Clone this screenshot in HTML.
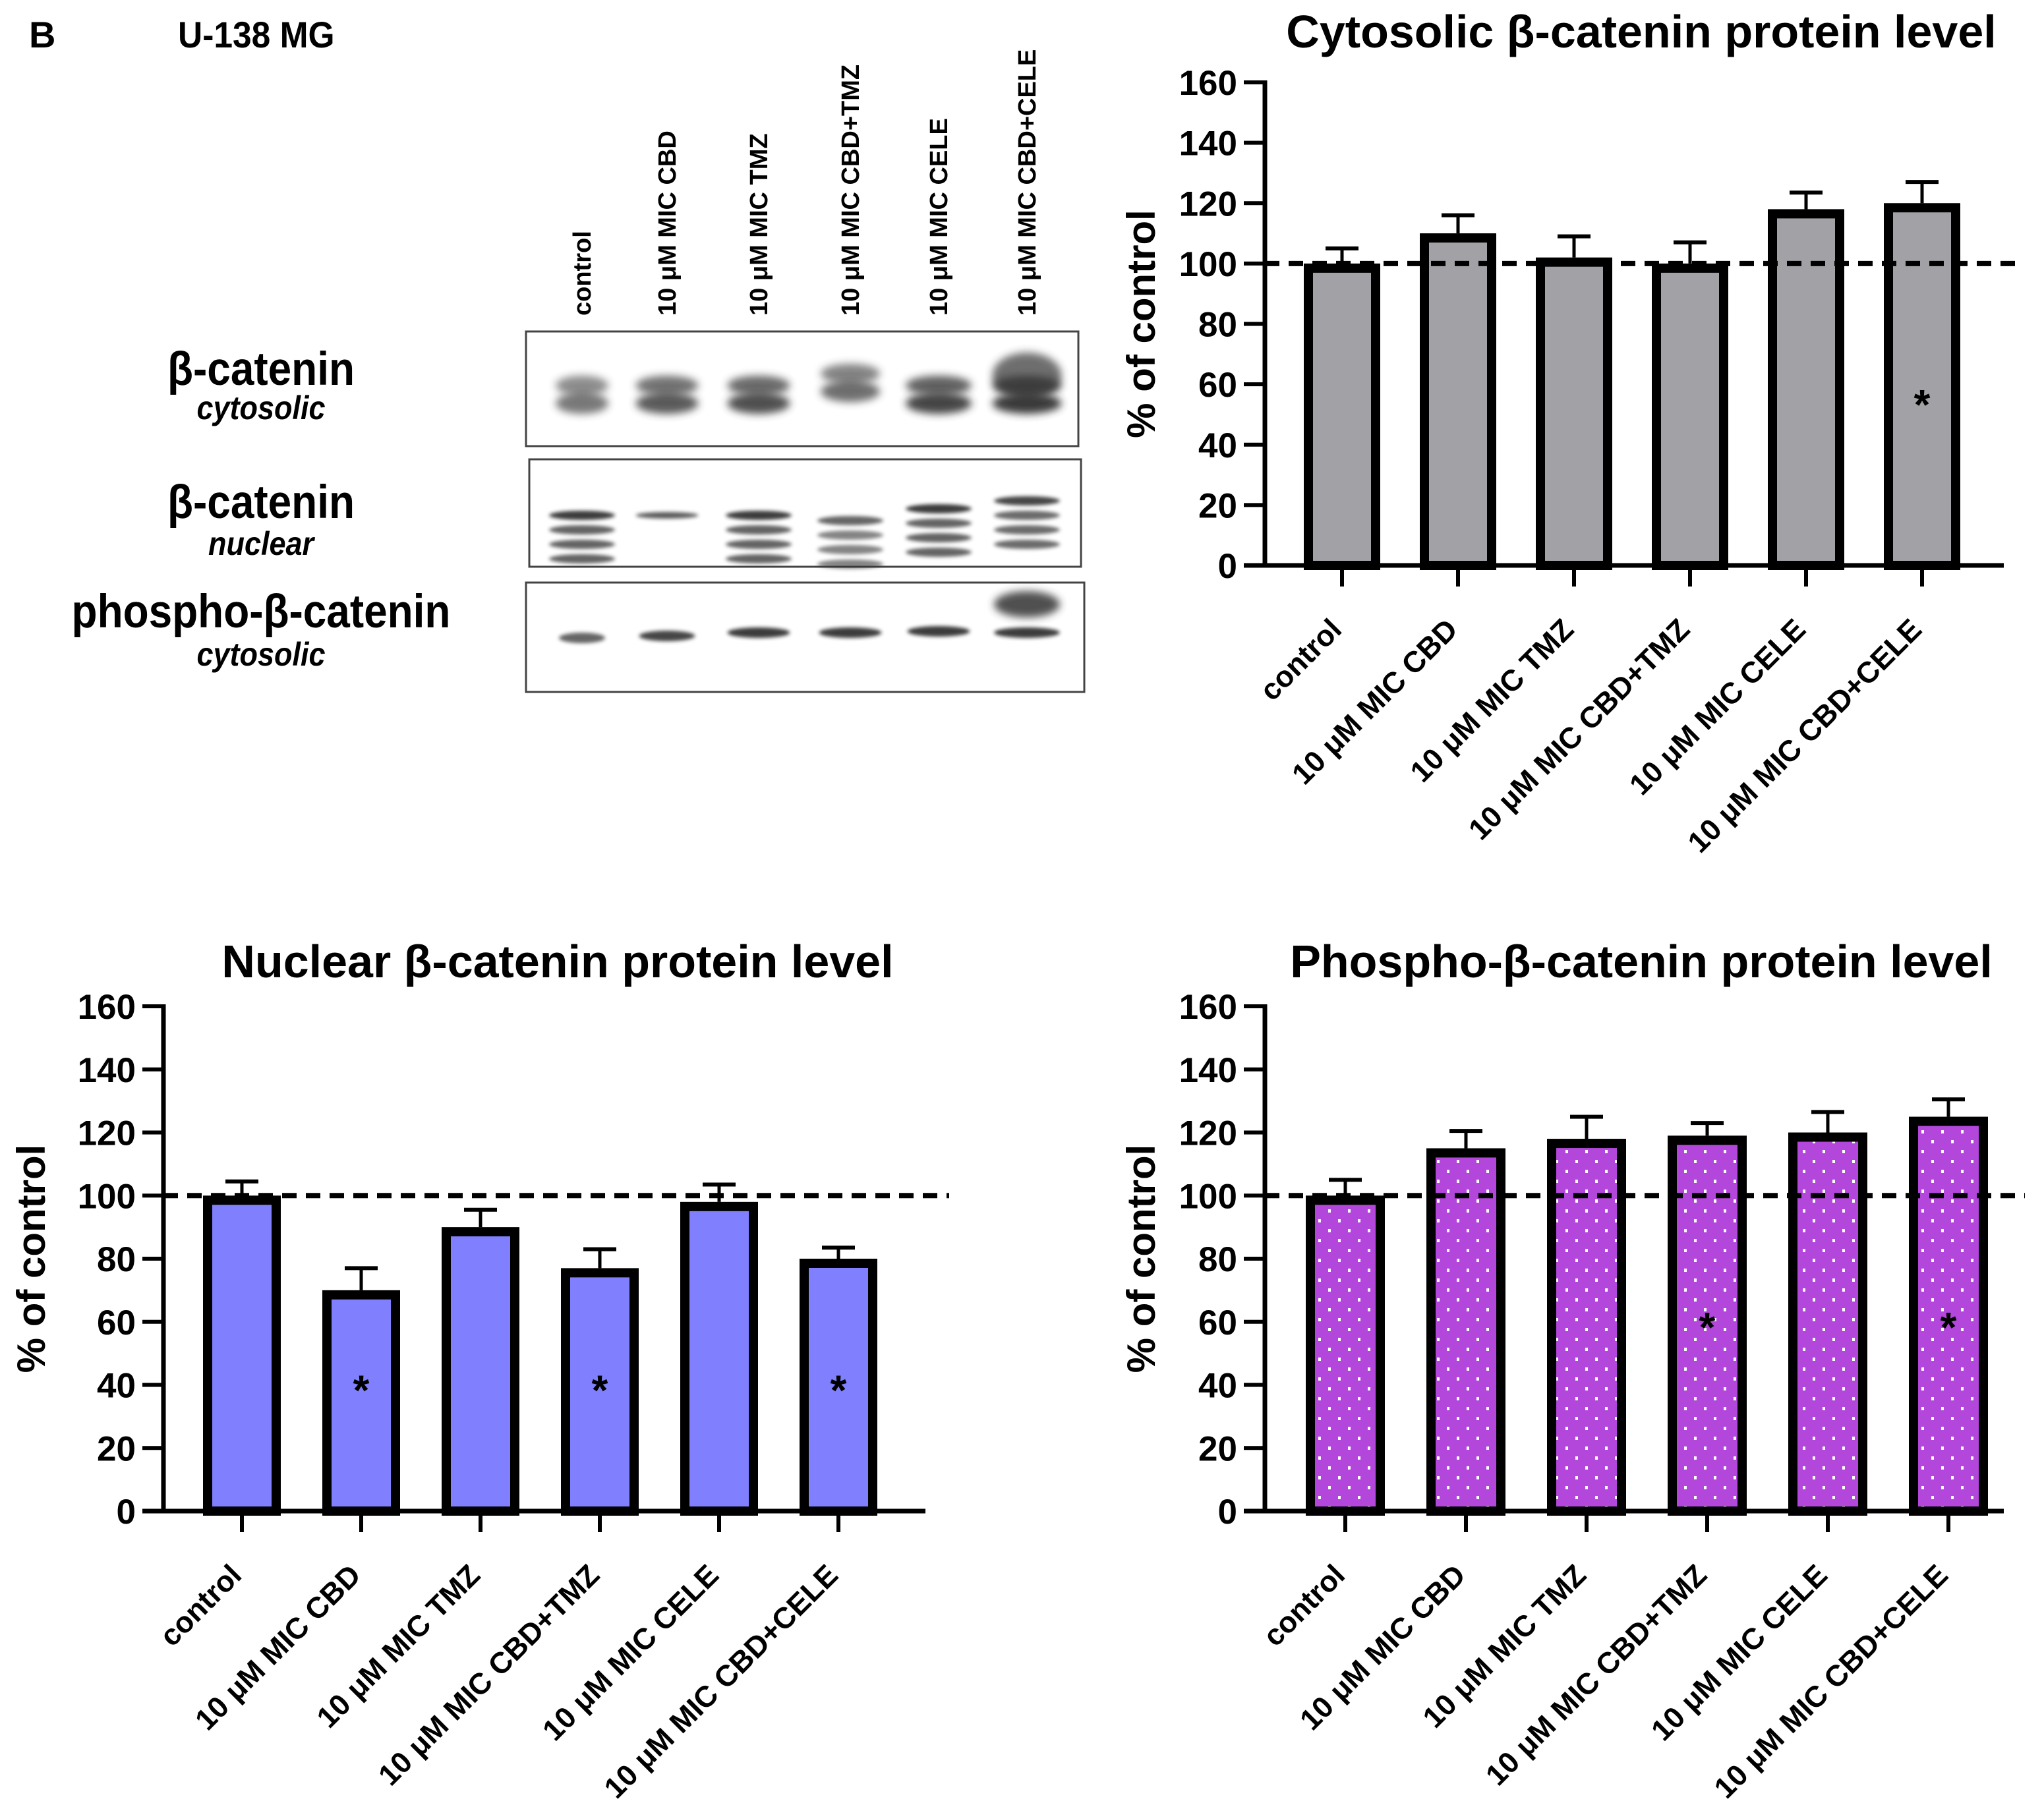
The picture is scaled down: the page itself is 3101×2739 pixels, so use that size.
<!DOCTYPE html>
<html><head><meta charset="utf-8"><style>
html,body{margin:0;padding:0;background:#fff}
svg{display:block}
text{font-family:"Liberation Sans",Arial,sans-serif;font-weight:bold;fill:#000}
</style></head><body>
<svg id="fig" width="3101" height="2739" viewBox="0 0 3101 2739" xmlns="http://www.w3.org/2000/svg">
<defs>
<pattern id="dots" width="30" height="30" patternUnits="userSpaceOnUse">
<rect width="30" height="30" fill="#b347db"/>
<rect x="5" y="5" width="4" height="5" fill="#fff"/>
<rect x="20" y="20" width="4" height="5" fill="#fff"/>
</pattern>
<filter id="blur" x="-30%" y="-100%" width="160%" height="300%"><feGaussianBlur stdDeviation="6"/></filter>
<filter id="blur2" x="-30%" y="-100%" width="160%" height="300%"><feGaussianBlur stdDeviation="3"/></filter>
</defs>
<text x="44" y="72" font-size="56">B</text>
<text x="270" y="72" font-size="56" transform="translate(270 0) scale(0.92 1) translate(-270 0)">U-138 MG</text>
<g id="blots"></g>
<g id="charts"></g>
</svg>
<script>
const categories = ["control","10 μM MIC CBD","10 μM MIC TMZ","10 μM MIC CBD+TMZ","10 μM MIC CELE","10 μM MIC CBD+CELE"];
const yTicks = [0,20,40,60,80,100,120,140,160];
const cytoValues = [100,110,102,100,118,120];
const cytoErrors = [5,6,7,7,5.5,7];
const cytoSig = [false,false,false,false,false,true];
const nucValues = [100,70,90,77,98,80];
const nucErrors = [4.5,7,5.5,6,5.5,3.5];
const nucSig = [false,true,false,true,false,true];
const phosValues = [100,115,118,119,120,125];
const phosErrors = [5,5.5,7,4,6.5,5.5];
const phosSig = [false,false,false,true,false,true];

const NS = "http://www.w3.org/2000/svg";
function el(tag, attrs, parent){
  const e = document.createElementNS(NS, tag);
  for (const k in attrs) e.setAttribute(k, attrs[k]);
  if (parent) parent.appendChild(e);
  return e;
}
const charts = document.getElementById('charts');

function drawChart(cfg){
  const g = el('g', {}, charts);
  
  
  const yScale = v => cfg.y0 - (v/160)*(cfg.y0 - cfg.y160);
  const xScale = i => cfg.x0c + i*cfg.step;
  const t = el('text', {x: cfg.titleX, y: cfg.titleY, 'font-size': 70, 'text-anchor': 'middle'}, g);
  t.textContent = cfg.title;
  
  
  const yt = el('text', {x: 0, y: 0, 'font-size': 60, 'text-anchor': 'middle',
    transform: `translate(${cfg.yTitleX} ${(cfg.y0+cfg.y160)/2}) rotate(-90)`}, g);
  yt.textContent = '% of control';
  
  
  cfg.values.forEach((v, i) => {
    const cx = xScale(i);
    const top = yScale(v);
    const w = cfg.barW - 14;
    const b = el('rect', {x: cx - w/2, y: top + 7, width: w, height: cfg.y0 - top - 7,
      fill: cfg.fill, stroke: '#000', 'stroke-width': 14}, g);
    
    
    const et = yScale(v + cfg.errors[i]);
    const e1 = el('line', {x1: cx, x2: cx, y1: top, y2: et, stroke: '#000', 'stroke-width': 5}, g);
    
    
    const e2 = el('line', {x1: cx - 25, x2: cx + 25, y1: et, y2: et, stroke: '#000', 'stroke-width': 6}, g);
    
    
    if (cfg.sig[i]) {
      const s = el('text', {x: cx, y: yScale(cfg.sigY) + 30, 'font-size': 64, 'text-anchor': 'middle'}, g);
      s.textContent = '*';
      
      
    }
    const xt = el('line', {x1: cx, x2: cx, y1: cfg.y0, y2: cfg.y0 + 32, stroke: '#000', 'stroke-width': 6}, g);
    
    
    const lx = cx + 2, ly = cfg.y0 + 100;
    const lbl = el('text', {x: lx, y: ly, 'font-size': 45, 'text-anchor': 'end',
      transform: `rotate(-45 ${lx} ${ly})`}, g);
    lbl.textContent = categories[i];
    
    
  });
  const d = el('line', {x1: cfg.axisX, x2: cfg.dashEnd, y1: yScale(100), y2: yScale(100),
    stroke: '#000', 'stroke-width': 8, 'stroke-dasharray': '22 14'}, g);
  
  
  const ya = el('line', {x1: cfg.axisX, x2: cfg.axisX, y1: yScale(160) - 3, y2: cfg.y0 + 3, stroke: '#000', 'stroke-width': 7}, g);
  
  
  const xa = el('line', {x1: cfg.axisX - 32, x2: cfg.axisEnd, y1: cfg.y0, y2: cfg.y0, stroke: '#000', 'stroke-width': 7}, g);
  
  
  yTicks.forEach(tv => {
    const y = yScale(tv);
    const tk = el('line', {x1: cfg.axisX - 32, x2: cfg.axisX, y1: y, y2: y, stroke: '#000', 'stroke-width': 6}, g);
    
    
    const tl = el('text', {x: cfg.axisX - 42, y: y + 19, 'font-size': 53, 'text-anchor': 'end'}, g);
    tl.textContent = tv;
    
    
  });
}

drawChart({name:'cytosolic-chart', title:'Cytosolic β-catenin protein level', titleX:2490, titleY:72,
  y0:858, y160:125, axisX:1919, axisEnd:3040, dashEnd:3070, x0c:2036, step:176, barW:116,
  values:cytoValues, errors:cytoErrors, sig:cytoSig, sigY:55, fill:'#a2a1a5', yTitleX:1752});
drawChart({name:'nuclear-chart', title:'Nuclear β-catenin protein level', titleX:846, titleY:1483,
  y0:2293, y160:1527, axisX:248, axisEnd:1404, dashEnd:1440, x0c:367, step:181, barW:118,
  values:nucValues, errors:nucErrors, sig:nucSig, sigY:40, fill:'#8080fe', yTitleX:68});
drawChart({name:'phospho-chart', title:'Phospho-β-catenin protein level', titleX:2490, titleY:1483,
  y0:2293, y160:1527, axisX:1919, axisEnd:3040, dashEnd:3072, x0c:2041, step:183, barW:120,
  values:phosValues, errors:phosErrors, sig:phosSig, sigY:60, fill:'url(#dots)', yTitleX:1752});

const blots = document.getElementById('blots');
const laneX = [883,1012,1151,1290,1424,1558];
laneX.forEach((x, i) => {
  const t = el('text', {x: 0, y: 0, 'font-size': 38, 'text-anchor': 'start',
    transform: `translate(${x+13} 479) rotate(-90)`}, blots);
  t.textContent = categories[i];
  
  
});
function lbl(txt, x, y, size, italic, name){
  const t = el('text', {x: 0, y: 0, 'font-size': size, 'text-anchor': 'middle',
    transform: `translate(${x} ${y}) scale(0.9 1)`}, blots);
  if (italic) t.setAttribute('font-style', 'italic');
  t.textContent = txt;
  
  
}
lbl('β-catenin', 396, 584, 71, false, 'blot-label-cytosolic');
lbl('cytosolic', 396, 636, 50, true, 'blot-sublabel');
lbl('β-catenin', 396, 786, 71, false, 'blot-label-nuclear');
lbl('nuclear', 396, 842, 50, true, 'blot-sublabel');
lbl('phospho-β-catenin', 396, 952, 71, false, 'blot-label-phospho');
lbl('cytosolic', 396, 1010, 50, true, 'blot-sublabel');

const boxes = [[798,503,838,174],[803,697,837,163],[798,884,847,166]];
const boxNames = ['blot-cytosolic','blot-nuclear','blot-phospho'];
boxes.forEach((b, k) => {
  const r = el('rect', {x: b[0], y: b[1], width: b[2], height: b[3], fill: '#fff', stroke: '#444', 'stroke-width': 3}, blots);
  
  
});
function band(cx, cy, w, h, op, f){
  el('ellipse', {cx, cy, rx: w/2, ry: h/2, fill: '#333', opacity: op, filter: f||'url(#blur)'}, blots);
}
const cyBand = [[883,0.65,80],[1012,0.8,95],[1151,0.85,95],[1290,0.7,90],[1424,0.9,100],[1558,0.95,105]];
cyBand.forEach(([x, o, w], i) => {
  const off = (i===3) ? -18 : 0;
  band(x, 585+off, w, 30, o*0.85);
  band(x, 612+off, w, 32, o);
  if (i===5) band(x, 570, w, 70, 0.7);
});
const nuX = [883,1012,1151,1290,1424,1558];
nuX.forEach((x, i) => {
  if (i===1) { band(x, 782, 95, 10, 0.8, 'url(#blur2)'); return; }
  const o = [0.95,0,0.95,0.75,0.95,0.9][i];
  const base = [782,0,782,790,772,760][i];
  for (let j=0;j<4;j++) band(x, base + j*22, 100, 14, o*(j===0?1:0.8), 'url(#blur2)');
});
[[883,968,0.75,70],[1012,965,0.9,85],[1151,960,0.95,95],[1290,960,0.95,95],[1424,958,0.95,95],[1558,960,0.95,100]].forEach(([x,y,o,w]) => band(x, y, w, 16, o, 'url(#blur2)'));
band(1558, 917, 100, 40, 0.85);
</script>
</body></html>
